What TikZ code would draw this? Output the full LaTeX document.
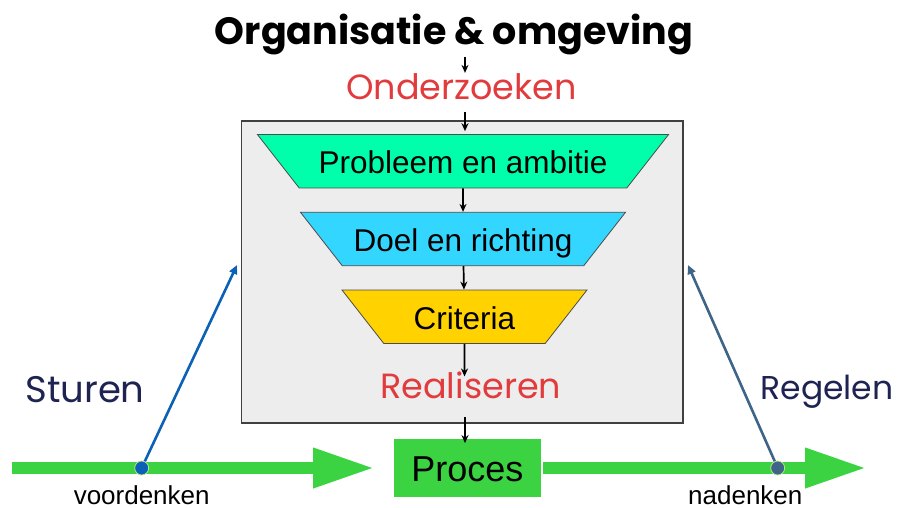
\documentclass[tikz,border=0pt]{standalone}
\usepackage{fontspec}
\setmainfont{Liberation Sans}
\newfontfamily\comicfont{Poppins}
\usetikzlibrary{shapes.geometric,arrows.meta,positioning}

\definecolor{mint}{HTML}{00FFAA}
\definecolor{sky}{HTML}{33D6FF}
\definecolor{gold}{HTML}{FFD200}
\definecolor{flowgreen}{HTML}{3CD342}
\definecolor{alarmred}{HTML}{E23B3D}
\definecolor{inkblue}{HTML}{1E2352}
\definecolor{steerblue}{HTML}{0B61B5}
\definecolor{ruleblue}{HTML}{3E6487}
\definecolor{framegray}{HTML}{EDEDED}

\begin{document}
\begin{tikzpicture}[x=1pt,y=-1pt,
  comic/.style={font=\comicfont\fontsize{35}{35}\selectfont, inner sep=1pt, anchor=base},
  funnel/.style={trapezium, trapezium stretches body=true, shape border rotate=180,
    trapezium angle=52, draw=black!70, line width=0.8pt, inner xsep=0pt, inner ysep=14.2pt,
    text height=25pt, text depth=0pt, font=\fontsize{31.5}{31.5}\selectfont},
  flow/.style={-{Stealth[length=8pt,width=7pt]}, line width=1.7pt},
  bigflow/.style={flowgreen, line width=12.6pt, -{Triangle[length=62pt,width=37pt]}},
  ctrl/.style={line width=2.6pt, -{Triangle[length=9pt,width=8pt]}},
  dot/.style={circle, draw={rgb,255:red,182;green,227;blue,138}, line width=0.8pt,
    minimum size=14pt, inner sep=0pt},
  small/.style={font=\fontsize{26}{26}\selectfont, inner sep=0pt, anchor=base}]
  \useasboundingbox (0,0) rectangle (898,508);

  % Frame
  \node[draw={rgb,255:red,64;green,64;blue,64}, line width=1.3pt, fill=framegray,
    minimum width=441.7pt, minimum height=301.7pt, inner sep=0pt] (frame) at (462,272) {};
  \coordinate (spine) at (465,0);

  % Headings
  \node[comic, font=\comicfont\bfseries\fontsize{38}{38}\selectfont] (org) at (454,45) {Organisatie \& omgeving};
  \node[comic, alarmred] (onder) at (461.5,100) {Onderzoeken};

  % Funnel
  \node[funnel, fill=mint, minimum width=411pt] (prob) at (463,161.3) {Probleem en ambitie};
  \node[funnel, fill=sky, minimum width=325pt] (doel) at (463,239) {Doel en richting};
  \node[funnel, fill=gold, minimum width=245pt] (crit) at (464.5,316.7) {Criteria};
  \node[comic, alarmred] (real) at (470.8,398.3) {Realiseren};

  % Process
  \node[fill=flowgreen, minimum width=146.7pt, minimum height=57.4pt, inner sep=0pt,
    text height=26pt, text depth=0pt, font=\fontsize{36}{36}\selectfont] (proc) at (467.3,468) {Proces};

  % Flow arrows
  \draw[flow] (org.south -| spine) -- (onder.north -| spine);
  \draw[flow, shorten <=10pt, shorten >=3pt] (onder.south -| spine) -- (prob.north -| spine);
  \draw[flow] (prob) -- (doel);
  \draw[flow] (doel) -- (crit);
  \draw[flow, shorten >=-6pt] (crit) -- (real.north -| crit);
  \draw[flow, shorten <=17pt, shorten >=-4pt] (real.south -| spine) -- (proc.north -| spine);

  % Process line
  \coordinate (ltail) at (12,468);
  \coordinate (lhead) at (375,468);
  \coordinate (rhead) at (867,468);
  \draw[bigflow] (ltail) -- (lhead);
  \draw[bigflow, shorten <=2pt] (proc.east) -- (rhead);

  % Steering and control
  \node[dot, fill=steerblue] (vd) at (141.7,468) {};
  \node[dot, fill=ruleblue] (nd) at (777.7,468) {};
  \coordinate (stip) at (237,265);
  \coordinate (rtip) at (688,265);
  \draw[ctrl, steerblue] (vd) -- (stip);
  \draw[ctrl, ruleblue] (nd) -- (rtip);
  \node[comic, inkblue, font=\comicfont\fontsize{37}{37}\selectfont] (sturen) at (85,402.7) {Sturen};
  \node[comic, inkblue, font=\comicfont\fontsize{33}{33}\selectfont] (regelen) at (827,399.3) {Regelen};
  \node[small] (voor) at (141.7,504) {voordenken};
  \node[small] (na) at (745.3,504) {nadenken};
\end{tikzpicture}
\end{document}
